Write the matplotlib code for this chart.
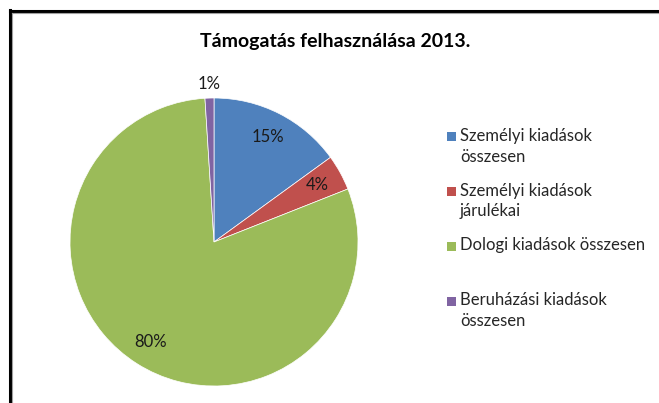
import numpy as np
import matplotlib.pyplot as plt
from matplotlib.lines import Line2D
from matplotlib.patches import Rectangle

plt.rcParams["font.family"] = ["Lato", "DejaVu Sans"]

# Chart data
title = "Támogatás felhasználása 2013."
labels = [
    "Személyi kiadások\nösszesen",
    "Személyi kiadások\njárulékai",
    "Dologi kiadások összesen",
    "Beruházási kiadások\nösszesen",
]
shares = [15, 4, 80, 1]
colors = ["#4F81BD", "#C0504D", "#9BBB59", "#8064A2"]

W, H = 659, 403
fig = plt.figure(figsize=(W / 100, H / 100), dpi=100)


def fx(px):
    return px / W


def fy(py):
    return 1 - py / H


# frame (black outer line + gray inner line, cut off at right/bottom)
fig.add_artist(Line2D([fx(9.5), fx(9.5)], [fy(10), 0], color="black", lw=2.2, transform=fig.transFigure))
fig.add_artist(Line2D([fx(9.5), 1], [fy(11), fy(11)], color="black", lw=2.2, transform=fig.transFigure))
fig.add_artist(Line2D([fx(11.8), fx(11.8)], [fy(12.5), 0], color="#a0a0a0", lw=0.8, transform=fig.transFigure))
fig.add_artist(Line2D([fx(11.8), 1], [fy(12.8), fy(12.8)], color="#a0a0a0", lw=0.8, transform=fig.transFigure))

fig.text(fx(335), fy(42), title, ha="center", va="center", fontsize=14, fontweight="bold", color="black")

# pie, centered at (214, 242) px with radius 144 px
cx, cy, r = 214, 242, 144
ax = fig.add_axes([fx(cx - r), fy(cy + r), 2 * r / W, 2 * r / H])
wedges, texts, autotexts = ax.pie(
    shares,
    colors=colors,
    startangle=90,
    counterclock=False,
    autopct="%d%%",
    pctdistance=0.82,
    wedgeprops=dict(edgecolor="white", linewidth=0.5),
    textprops=dict(fontsize=12, color="#1a1a1a"),
)
ax.set_xlim(-1, 1)
ax.set_ylim(-1, 1)
ax.set_aspect("auto")
ax.axis("off")

# small slice label sits outside the pie
w = wedges[-1]
mid = np.deg2rad((w.theta1 + w.theta2) / 2)
autotexts[-1].set_position((1.1 * np.cos(mid), 1.1 * np.sin(mid)))

# legend, one slot per entry like the original
top = 137
slot = 54.7
for i, (lab, col) in enumerate(zip(labels, colors)):
    y = top + i * slot
    fig.add_artist(Rectangle((fx(447), fy(y + 4.5)), 9 / W, 9 / H, facecolor=col,
                             edgecolor="none", transform=fig.transFigure))
    fig.text(fx(460), fy(y - 9), lab, ha="left", va="top", fontsize=12,
             color="#262626", linespacing=1.35)

fig.savefig("out.png", dpi=100)
